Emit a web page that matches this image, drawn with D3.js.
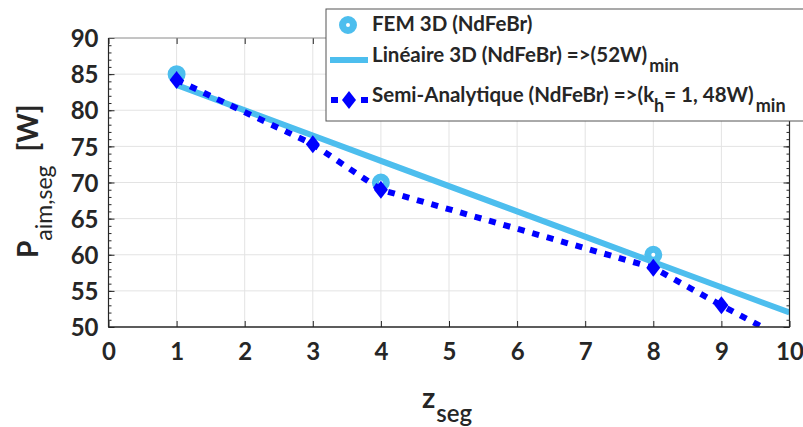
<!DOCTYPE html>
<html><head><meta charset="utf-8">
<script src="https://cdn.jsdelivr.net/npm/d3@7"></script>
<style>
body{margin:0;background:#fff}
text{font-family:Lato,"Open Sans",sans-serif;fill:#262626}
</style>
</head><body><svg id="c" width="803" height="427"></svg>
<script>
// ---- data ----
const xTicks = [0,1,2,3,4,5,6,7,8,9,10];
const yTicks = [50,55,60,65,70,75,80,85,90];
const femX = [1,4,8];
const femY = [85,70,60];
const linX = [1,3,4,8,9,10];
const linY = [83.5,76.5,73,59,55.5,52];
const semiX = [1,3,4,8,9,10];
const semiY = [84.2,75.3,69,58.2,53,48];

// ---- layout ----
const L=108.5, R=789.5, T=38, B=327;
const x = d3.scaleLinear().domain([0,10]).range([L,R]);
const y = d3.scaleLinear().domain([50,90]).range([B,T]);
const svg = d3.select('#c');
const axisCol = '#262626', lightBlue = '#4DBEEE', blue = '#0000FF';

svg.append('defs').append('clipPath').attr('id','pc')
  .append('rect').attr('x',L).attr('y',T).attr('width',R-L).attr('height',B-T);

// grid
const g = svg.append('g');
g.selectAll('.gx').data(xTicks.slice(1,-1)).join('line')
  .attr('x1',d=>x(d)).attr('x2',d=>x(d)).attr('y1',T).attr('y2',B)
  .attr('stroke','#e3e3e3').attr('stroke-width',1);
g.selectAll('.gy').data(yTicks.slice(1,-1)).join('line')
  .attr('y1',d=>y(d)).attr('y2',d=>y(d)).attr('x1',L).attr('x2',R)
  .attr('stroke','#e3e3e3').attr('stroke-width',1);

// axes via d3
const minorY = d3.range(50,91,1);
const ax = svg.append('g');
function styleAxis(sel){
  sel.select('.domain').remove();
  sel.selectAll('line').attr('stroke',axisCol);
  sel.selectAll('text').style('font-size','24px').style('font-weight','700').attr('fill',axisCol);
}
// minor ticks
ax.append('g').attr('transform',`translate(${L},0)`)
  .call(d3.axisRight(y).tickValues(minorY).tickSize(3).tickFormat(''))
  .call(styleAxis);
ax.append('g').attr('transform',`translate(${R},0)`)
  .call(d3.axisLeft(y).tickValues(minorY).tickSize(3).tickFormat(''))
  .call(styleAxis);
// major y ticks left with labels
const yl = ax.append('g').attr('transform',`translate(${L},0)`)
  .call(d3.axisLeft(y).tickValues(yTicks).tickSize(0).tickPadding(10).tickFormat(d3.format('d')))
  .call(styleAxis);
yl.selectAll('text').attr('dy','0.36em');
ax.append('g').attr('transform',`translate(${L},0)`)
  .call(d3.axisRight(y).tickValues(yTicks).tickSize(6).tickFormat(''))
  .call(styleAxis);
ax.append('g').attr('transform',`translate(${R},0)`)
  .call(d3.axisLeft(y).tickValues(yTicks).tickSize(6).tickFormat(''))
  .call(styleAxis);
// x ticks
const xl = ax.append('g').attr('transform',`translate(0,${B})`)
  .call(d3.axisBottom(x).tickValues(xTicks).tickSize(0).tickPadding(16).tickFormat(d3.format('d')))
  .call(styleAxis);
ax.append('g').attr('transform',`translate(0,${B})`)
  .call(d3.axisTop(x).tickValues(xTicks).tickSize(6).tickFormat(''))
  .call(styleAxis);
ax.append('g').attr('transform',`translate(0,${T})`)
  .call(d3.axisBottom(x).tickValues(xTicks).tickSize(6).tickFormat(''))
  .call(styleAxis);

// data
const plot = svg.append('g').attr('clip-path','url(#pc)');
const line = d3.line().x(d=>x(d[0])).y(d=>y(d[1]));
const femPts = femX.map((v,i)=>[v,femY[i]]);
const linPts = linX.map((v,i)=>[v,linY[i]]);
const semiPts = semiX.map((v,i)=>[v,semiY[i]]);

plot.selectAll('.fem').data(femPts).join('circle')
  .attr('cx',d=>x(d[0])).attr('cy',d=>y(d[1])).attr('r',5.5)
  .attr('fill','#fff').attr('stroke',lightBlue).attr('stroke-width',7);
plot.append('path').datum(linPts).attr('d',line)
  .attr('fill','none').attr('stroke',lightBlue).attr('stroke-width',6);
plot.append('path').datum(semiPts).attr('d',line)
  .attr('fill','none').attr('stroke',blue).attr('stroke-width',6).attr('stroke-dasharray','7,8');
const diamond = 'M0,-9L7,0L0,9L-7,0Z';
plot.selectAll('.semi').data(semiPts).join('path')
  .attr('d',diamond).attr('transform',d=>`translate(${x(d[0])},${y(d[1])})`)
  .attr('fill',blue);

// box
svg.append('line').attr('x1',L).attr('x2',R).attr('y1',T).attr('y2',T).attr('stroke','#8a8a8a');
svg.append('line').attr('x1',L).attr('x2',R).attr('y1',B).attr('y2',B).attr('stroke',axisCol).attr('stroke-width',1.5);
svg.append('line').attr('x1',L).attr('x2',L).attr('y1',T).attr('y2',B).attr('stroke',axisCol).attr('stroke-width',1.2);
svg.append('line').attr('x1',R).attr('x2',R).attr('y1',T).attr('y2',B).attr('stroke',axisCol).attr('stroke-width',1.2);

// axis labels
const ylab = svg.append('text').attr('transform','translate(38,258) rotate(-90)')
  .attr('font-weight','700').style('font-size','28px');
ylab.append('tspan').text('P');
ylab.append('tspan').attr('dy',14).style('font-size','23px').attr('font-weight','400').text('aim,seg');
ylab.append('tspan').attr('dy',-14).attr('dx',14).text('[W]');

const xlab = svg.append('text').attr('x',422).attr('y',408)
  .attr('font-weight','700').style('font-size','29px');
xlab.append('tspan').text('z');
xlab.append('tspan').attr('dy',14).attr('dx',1).style('font-size','24px').attr('font-weight','600').text('seg');

// legend
const lg = svg.append('g');
lg.append('rect').attr('x',326).attr('y',9).attr('width',490).attr('height',112)
  .attr('fill','#fff').attr('stroke','#555').attr('stroke-width',1);
lg.append('circle').attr('cx',348).attr('cy',25).attr('r',5.5)
  .attr('fill','#fff').attr('stroke',lightBlue).attr('stroke-width',7);
lg.append('line').attr('x1',330).attr('x2',368).attr('y1',60).attr('y2',60)
  .attr('stroke',lightBlue).attr('stroke-width',6);
lg.append('line').attr('x1',330).attr('x2',368).attr('y1',100).attr('y2',100)
  .attr('stroke',blue).attr('stroke-width',6).attr('stroke-dasharray','7,8').attr('stroke-dashoffset',-1);
lg.append('path').attr('d',diamond).attr('transform','translate(349,100)').attr('fill',blue);

const lfs = '20.5px', sfs = '18px';
lg.append('text').attr('x',372).attr('y',31).attr('font-weight','700').style('font-size',lfs)
  .text('FEM 3D (NdFeBr)');
const t2 = lg.append('text').attr('x',372).attr('y',62).attr('font-weight','700').style('font-size',lfs);
t2.append('tspan').text('Linéaire 3D (NdFeBr) =>(52W)');
t2.append('tspan').attr('dy',10).attr('dx',2).style('font-size',sfs).text('min');
const t3 = lg.append('text').attr('x',372).attr('y',102).attr('font-weight','700').style('font-size',lfs);
t3.append('tspan').text('Semi-Analytique (NdFeBr) =>(k');
t3.append('tspan').attr('dy',10).style('font-size',sfs).text('h');
t3.append('tspan').attr('dy',-10).text('= 1, 48W)');
t3.append('tspan').attr('dy',10).attr('dx',2).style('font-size',sfs).text('min');
</script>
</body></html>
